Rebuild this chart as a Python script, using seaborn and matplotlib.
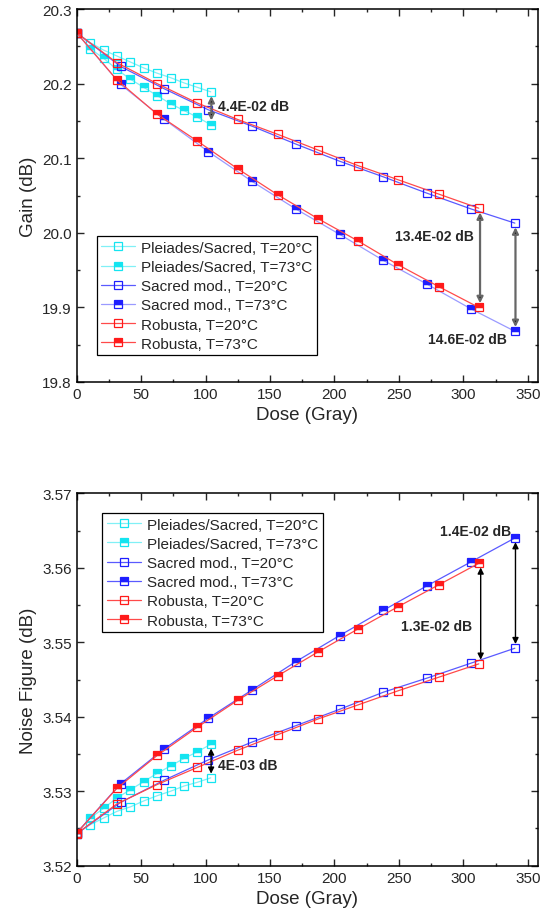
import matplotlib
matplotlib.use('Agg')
import matplotlib.pyplot as plt
from matplotlib.ticker import MultipleLocator, FormatStrFormatter
import seaborn as sns
import pandas as pd

# doses (Gray) of each measurement campaign
dose_pleiades = [0, 10.4, 20.8, 31.2, 41.6, 52, 62.4, 72.8, 83.2, 93.6, 104]
dose_sacred = [0, 34, 68, 102, 136, 170, 204, 238, 272, 306, 340]
dose_robusta = [0, 31.2, 62.4, 93.6, 124.8, 156, 187.2, 218.4, 249.6, 280.8, 312]

# gain (dB)
gain_ple_20 = [20.268, 20.255, 20.245, 20.237, 20.229, 20.221, 20.214, 20.208, 20.201, 20.195, 20.189]
gain_ple_73 = [20.268, 20.247, 20.234, 20.219, 20.206, 20.195, 20.184, 20.173, 20.164, 20.155, 20.145]
gain_sac_20 = [20.268, 20.223, 20.193, 20.165, 20.143, 20.119, 20.096, 20.075, 20.053, 20.032, 20.013]
gain_sac_73 = [20.268, 20.199, 20.152, 20.109, 20.069, 20.032, 19.998, 19.963, 19.931, 19.898, 19.868]
gain_rob_20 = [20.268, 20.228, 20.200, 20.174, 20.152, 20.132, 20.111, 20.090, 20.071, 20.052, 20.033]
gain_rob_73 = [20.268, 20.205, 20.159, 20.123, 20.086, 20.051, 20.019, 19.989, 19.957, 19.928, 19.900]

# noise figure (dB)
nf_ple_20 = [3.5243, 3.5255, 3.5264, 3.5273, 3.5279, 3.5287, 3.5294, 3.5300, 3.5307, 3.5312, 3.5318]
nf_ple_73 = [3.5244, 3.5264, 3.5277, 3.5291, 3.5302, 3.5313, 3.5324, 3.5334, 3.5344, 3.5353, 3.5363]
nf_sac_20 = [3.5243, 3.5285, 3.5315, 3.5342, 3.5366, 3.5388, 3.5410, 3.5433, 3.5452, 3.5472, 3.5492]
nf_sac_73 = [3.5244, 3.5310, 3.5357, 3.5398, 3.5436, 3.5474, 3.5509, 3.5543, 3.5576, 3.5608, 3.5640]
nf_rob_20 = [3.5243, 3.5283, 3.5309, 3.5332, 3.5355, 3.5376, 3.5397, 3.5416, 3.5435, 3.5453, 3.5471]
nf_rob_73 = [3.5244, 3.5304, 3.5348, 3.5386, 3.5422, 3.5455, 3.5487, 3.5518, 3.5548, 3.5577, 3.5606]

labels = ['Pleiades/Sacred, T=20°C', 'Pleiades/Sacred, T=73°C',
          'Sacred mod., T=20°C', 'Sacred mod., T=73°C',
          'Robusta, T=20°C', 'Robusta, T=73°C']

sns.set_style('ticks')
plt.rcParams['font.family'] = ['Liberation Sans', 'DejaVu Sans']

# marker colour, line colour
cyan = ('#14E4F0', '#80F0F6')
blue = ('#1E1EFF', '#5A5AFF')
red = ('#FF1A1A', '#FF4A4A')


def draw(ax, x, y, col, label, filled):
    df = pd.DataFrame({'x': x, 'y': y})
    kw = dict(marker='s', markersize=5.8, markeredgewidth=0.9,
              markeredgecolor=col[0], color=col[1], linewidth=0.9, label=label)
    if filled:
        kw.update(fillstyle='top', markerfacecolor=col[0], markerfacecoloralt='none')
    else:
        kw.update(markerfacecolor='none')
    sns.lineplot(data=df, x='x', y='y', ax=ax, estimator=None, sort=False, **kw)


def arrow(ax, x, y0, y1, shaft, lw):
    ax.annotate('', xy=(x, y1), xytext=(x, y0),
                arrowprops=dict(arrowstyle='<|-|>', ec=shaft, fc='black', lw=lw,
                                mutation_scale=9, shrinkA=3, shrinkB=3))


def style(ax, ylab, ymaj, ymin, fmt):
    ax.set_xlim(0, 358)
    ax.xaxis.set_major_locator(MultipleLocator(50))
    ax.xaxis.set_minor_locator(MultipleLocator(25))
    ax.yaxis.set_major_locator(MultipleLocator(ymaj))
    ax.yaxis.set_minor_locator(MultipleLocator(ymin))
    ax.yaxis.set_major_formatter(FormatStrFormatter(fmt))
    ax.tick_params(which='both', direction='in', top=True, right=True, labelsize=11, width=1)
    ax.tick_params(which='major', length=5)
    ax.tick_params(which='minor', length=2.5)
    for s in ax.spines.values():
        s.set_linewidth(1.1)
        s.set_color('black')
    ax.set_xlabel('Dose (Gray)', fontsize=13.5)
    ax.set_ylabel(ylab, fontsize=13.5)


def legend(ax, anchor):
    leg = ax.legend(loc='upper left', bbox_to_anchor=anchor, borderaxespad=0,
                    fontsize=11, fancybox=False, edgecolor='black', framealpha=1,
                    handlelength=2.2, labelspacing=0.34, borderpad=0.3, handletextpad=0.4)
    leg.get_frame().set_linewidth(0.9)


fig = plt.figure(figsize=(5.48, 9.2), dpi=100)
ax1 = fig.add_axes([0.140, 0.5837, 0.8418, 0.4054])
ax2 = fig.add_axes([0.140, 0.0579, 0.8418, 0.4048])

# gain panel
draw(ax1, dose_pleiades, gain_ple_20, cyan, labels[0], False)
draw(ax1, dose_pleiades, gain_ple_73, cyan, labels[1], True)
draw(ax1, dose_sacred, gain_sac_20, blue, labels[2], False)
draw(ax1, dose_sacred, gain_sac_73, ('#1E1EFF', '#9A9AFF'), labels[3], True)
draw(ax1, dose_robusta, gain_rob_20, red, labels[4], False)
draw(ax1, dose_robusta, gain_rob_73, red, labels[5], True)
ax1.set_ylim(19.8, 20.3)
style(ax1, 'Gain (dB)', 0.1, 0.05, '%.1f')
arrow(ax1, 104.5, gain_ple_20[-1], gain_ple_73[-1], '0.4', 1.6)
arrow(ax1, 313, gain_rob_20[-1], gain_rob_73[-1], '0.4', 1.6)
arrow(ax1, 340.5, gain_sac_20[-1], gain_sac_73[-1], '0.4', 1.6)
ax1.text(110, 20.170, '4.4E-02 dB', fontsize=10, fontweight='bold', ha='left', va='center')
ax1.text(308, 19.996, '13.4E-02 dB', fontsize=10, fontweight='bold', ha='right', va='center')
ax1.text(334, 19.858, '14.6E-02 dB', fontsize=10, fontweight='bold', ha='right', va='center')
legend(ax1, (0.043, 0.391))

# noise figure panel
draw(ax2, dose_pleiades, nf_ple_20, cyan, labels[0], False)
draw(ax2, dose_pleiades, nf_ple_73, cyan, labels[1], True)
draw(ax2, dose_sacred, nf_sac_20, blue, labels[2], False)
draw(ax2, dose_sacred, nf_sac_73, blue, labels[3], True)
draw(ax2, dose_robusta, nf_rob_20, red, labels[4], False)
draw(ax2, dose_robusta, nf_rob_73, red, labels[5], True)
ax2.set_ylim(3.52, 3.57)
style(ax2, 'Noise Figure (dB)', 0.01, 0.005, '%.2f')
arrow(ax2, 104.3, nf_ple_73[-1], nf_ple_20[-1], 'black', 1.0)
arrow(ax2, 313.5, nf_rob_73[-1], nf_rob_20[-1], 'black', 1.0)
arrow(ax2, 340.5, nf_sac_73[-1], nf_sac_20[-1], 'black', 1.0)
ax2.text(110, 3.5335, '4E-03 dB', fontsize=10, fontweight='bold', ha='left', va='center')
ax2.text(307, 3.5522, '1.3E-02 dB', fontsize=10, fontweight='bold', ha='right', va='center')
ax2.text(337, 3.5650, '1.4E-02 dB', fontsize=10, fontweight='bold', ha='right', va='center')
legend(ax2, (0.0555, 0.947))

fig.savefig('out.png', dpi=100)
